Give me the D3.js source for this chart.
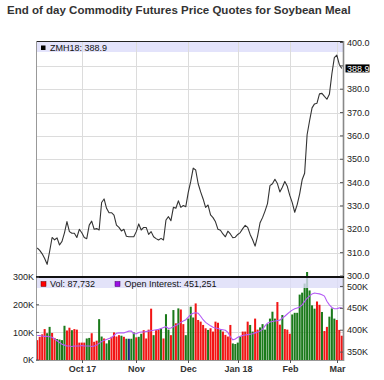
<!DOCTYPE html>
<html><head><meta charset="utf-8">
<script src="https://cdn.jsdelivr.net/npm/d3@7"></script>
<style>body{margin:0;background:#fff}svg{display:block}text{font-family:"Liberation Sans",Arial,Helvetica,sans-serif}</style>
</head><body><svg id="c" width="384" height="380"></svg>
<script>
const title = "End of day Commodity Futures Price Quotes for Soybean Meal";
const symbol = "ZMH18";
const lastPrice = 388.9;
const lastVolumeText = "87,732";
const lastOIText = "451,251";
const monthLabels = ["Oct 17","Nov","Dec","Jan 18","Feb","Mar"];
const monthIndex = [18,40,61,81,102,121];
const priceTicks = [300,310,320,330,340,350,360,370,380,390,400];
const volumeTicks = [0,100,200,300];
const oiTicks = [350,400,450,500];

const closes = [
312.0,311.0,309.5,307.5,305.0,310.5,316.5,315.5,316.3,313.3,
314.8,318.5,323.3,319.0,318.3,318.3,316.5,320.0,318.5,316.5,
316.0,321.8,323.5,320.0,320.3,319.7,331.5,333.0,329.0,327.1,
327.1,326.1,321.8,320.8,319.3,320.0,317.0,316.8,316.8,316.8,
319.0,322.3,319.7,320.8,320.8,317.8,319.0,316.8,316.0,315.4,
316.1,315.4,324.0,325.4,323.7,329.4,329.0,332.2,329.4,330.2,
329.7,335.8,340.5,346.2,345.4,339.5,336.0,333.0,329.4,330.4,
326.2,325.0,323.2,320.0,319.6,318.0,316.8,319.2,318.0,316.4,
316.6,317.8,318.6,320.3,321.7,320.8,317.8,315.5,312.8,317.1,
322.8,325.0,327.8,331.0,338.7,339.5,341.4,339.6,336.0,338.0,
340.5,338.4,334.5,331.4,327.3,330.6,335.2,341.2,344.0,360.5,
366.5,372.0,373.7,374.0,378.0,378.2,376.9,375.7,377.8,386.5,
393.5,394.6,390.6,388.9];

const volumes = [
72,84,93,112,97,120,98,80,76,74,
72,124,107,117,108,112,110,63,63,63,
78,80,97,66,70,148,85,78,60,72,
84,100,85,90,88,84,77,77,77,100,
82,84,95,108,78,110,186,90,108,111,
115,78,166,110,90,181,133,187,183,130,
90,150,193,154,205,145,139,127,115,109,
115,103,139,135,109,103,91,85,127,60,
58,63,85,103,103,139,127,103,150,110,
118,130,110,130,150,175,150,210,128,163,
112,110,95,165,171,171,237,244,277,330,
252,198,186,212,200,174,105,120,157,187,
150,145,109,88];

const volumeDir = [
"d","d","d","d","u","u","d","d","u","u",
"u","u","d","d","u","d","d","d","d","d",
"u","u","d","d","d","u","u","d","u","u",
"d","d","d","d","u","d","u","n","u","u",
"d","u","u","d","d","d","d","u","d","d",
"u","d","u","u","d","u","d","u","d","d",
"u","u","u","u","d","d","d","d","d","u",
"d","d","d","d","u","d","d","d","d","u",
"u","u","u","d","d","d","u","u","d","d",
"u","u","u","u","u","u","u","d","d","u",
"d","d","d","u","u","u","u","u","u","u",
"u","u","u","d","d","u","d","d","u","u",
"u","d","d","d"];

const openInterest = [
388,388,387,386,386,385,384,380,376,372,
368,366,364,364,363,364,364,364,365,364,
364,364,363,364,366,370,374,377,379,381,
383,388,393,394,394,394,396,398,398,392,
392,395,396,396,397,398,399,400,401,402,
404,406,408,404,405,408,411,414,418,421,
424,430,436,439,440,439,432,424,418,414,
410,407,405,404,402,401,400,395,385,378,
380,384,386,388,389,390,391,392,394,396,
398,402,410,416,419,420,421,422,423,428,
432,437,442,446,449,451,453,458,466,473,
478,483,485,484,483,481,478,466,458,452,
449,449,451,451];

const svg = d3.select("#c");
const L = 36, R = 343, mainTop = 41, mainBot = 277, volTop = 277, volBot = 360;
const idx = d3.range(closes.length);
const x = d3.scaleBand().domain(idx).range([L, R]).paddingInner(0.18).paddingOuter(0.09);
const xc = i => x(i) + x.bandwidth()/2;
const yP = d3.scaleLinear().domain([300,400]).range([276,42.5]);
const yV = d3.scaleLinear().domain([0,300]).range([volBot,277.2]);
const yOI = d3.scaleLinear().domain([332,520]).range([volBot,277.7]);
const grid = "#dcdcdc";
const dirColor = {u:"#1b7a1b", d:"#f21515", n:"#1a237e"};

// title
const t = svg.append("text").attr("x",7).attr("y",14).attr("font-weight","bold")
  .attr("font-size",12).attr("fill","#333").text(title);
const w = t.node().getComputedTextLength();
t.attr("font-size", 12*344/w);

// main legend band
svg.append("rect").attr("x",L).attr("y",mainTop).attr("width",R-L).attr("height",11).attr("fill","#e3e3fb");

// main gridlines
svg.append("g").selectAll("line").data(priceTicks.filter(v=>v>300&&v<400)).join("line")
  .attr("x1",L).attr("x2",R).attr("y1",d=>Math.round(yP(d))+0.5).attr("y2",d=>Math.round(yP(d))+0.5)
  .attr("stroke",grid);
svg.append("g").selectAll("line").data(monthIndex).join("line")
  .attr("x1",d=>Math.round(xc(d))+0.5).attr("x2",d=>Math.round(xc(d))+0.5)
  .attr("y1",mainTop).attr("y2",volBot).attr("stroke",grid);
// volume gridlines
svg.append("g").selectAll("line").data([100,200]).join("line")
  .attr("x1",L).attr("x2",R).attr("y1",d=>Math.round(yV(d))+0.5).attr("y2",d=>Math.round(yV(d))+0.5)
  .attr("stroke",grid);

// volume bars
svg.append("clipPath").attr("id","vclip").append("rect").attr("x",L).attr("y",272).attr("width",R-L).attr("height",volBot-272);
svg.append("g").attr("clip-path","url(#vclip)").selectAll("rect").data(idx).join("rect")
  .attr("x",i=>x(i)).attr("width",x.bandwidth())
  .attr("y",i=>yV(volumes[i])).attr("height",i=>volBot-yV(volumes[i]))
  .attr("fill",i=>dirColor[volumeDir[i]]);

// OI line
svg.append("path").datum(idx).attr("fill","none").attr("stroke","#b45cf5").attr("stroke-width",1.1)
  .attr("d",d3.line().x(xc).y(i=>yOI(openInterest[i])));

// volume legend band
svg.append("rect").attr("x",L).attr("y",278).attr("width",R-L).attr("height",10).attr("fill","#dcdcf8").attr("fill-opacity",0.8);
svg.append("rect").attr("x",41).attr("y",281.5).attr("width",5).attr("height",5).attr("fill","#f00").attr("stroke","#600").attr("stroke-width",0.5);
svg.append("text").attr("x",50).attr("y",287).attr("font-size",9).attr("fill","#111").text("Vol: "+lastVolumeText);
svg.append("rect").attr("x",115).attr("y",281.5).attr("width",5).attr("height",5).attr("fill","#9a10e6").attr("stroke","#400060").attr("stroke-width",0.5);
svg.append("text").attr("x",124.5).attr("y",287).attr("font-size",9).attr("fill","#111").text("Open Interest: "+lastOIText);

// price line
svg.append("path").datum(idx).attr("fill","none").attr("stroke","#333").attr("stroke-width",1.1)
  .attr("stroke-linejoin","round")
  .attr("d",d3.line().x(xc).y(i=>yP(closes[i])));

// main legend
svg.append("rect").attr("x",41).attr("y",45.5).attr("width",4.5).attr("height",4.5).attr("fill","#000");
svg.append("text").attr("x",50).attr("y",50.5).attr("font-size",9).attr("fill","#111").text(symbol+": "+lastPrice.toFixed(1));

// borders
svg.append("line").attr("x1",L).attr("x2",R+1).attr("y1",41.5).attr("y2",41.5).attr("stroke","#222");
svg.append("line").attr("x1",L+0.5).attr("x2",L+0.5).attr("y1",41).attr("y2",volBot).attr("stroke","#999");
svg.append("line").attr("x1",R+0.5).attr("x2",R+0.5).attr("y1",41).attr("y2",volBot+1).attr("stroke","#888").attr("stroke-width",1.6);
svg.append("line").attr("x1",L).attr("x2",R+1).attr("y1",277).attr("y2",277).attr("stroke","#111").attr("stroke-width",2);
svg.append("line").attr("x1",L).attr("x2",R+1).attr("y1",volBot+0.5).attr("y2",volBot+0.5).attr("stroke","#999");

// right price axis
const ax = svg.append("g").attr("font-size",9).attr("fill","#222");
priceTicks.forEach(v=>{
  const y = yP(v);
  svg.append("line").attr("x1",R-3).attr("x2",R).attr("y1",y).attr("y2",y).attr("stroke","#555");
  if (Math.abs(y - yP(lastPrice)) > 7)
    ax.append("text").attr("x",347).attr("y",y).attr("dy","0.35em").text(d3.format(".1f")(v));
});
svg.append("rect").attr("x",345.5).attr("y",yP(lastPrice)-4).attr("width",24).attr("height",8).attr("fill","#000");
svg.append("text").attr("x",347).attr("y",yP(lastPrice)).attr("dy","0.35em").attr("font-size",9).attr("fill","#fff").text(lastPrice.toFixed(1));

// OI axis
oiTicks.forEach(v=>{
  const y = yOI(v);
  svg.append("line").attr("x1",R-3).attr("x2",R).attr("y1",y).attr("y2",y).attr("stroke","#555");
  ax.append("text").attr("x",347).attr("y",y).attr("dy","0.35em").text(v+"K");
});
// volume axis
volumeTicks.forEach(v=>{
  const y = yV(v);
  svg.append("line").attr("x1",L).attr("x2",L+3).attr("y1",y).attr("y2",y).attr("stroke","#555");
  ax.append("text").attr("x",34).attr("y",y).attr("dy","0.35em").attr("text-anchor","end").text(v+"K");
});
// month axis
monthIndex.forEach((m,k)=>{
  const xx = Math.round(xc(m))+0.5;
  svg.append("line").attr("x1",xx).attr("x2",xx).attr("y1",volBot).attr("y2",volBot+3).attr("stroke","#555");
  svg.append("text").attr("x",xx).attr("y",371.5).attr("text-anchor","middle").attr("font-size",9)
    .attr("font-weight","bold").attr("fill","#333").text(monthLabels[k]);
});
</script></body></html>
